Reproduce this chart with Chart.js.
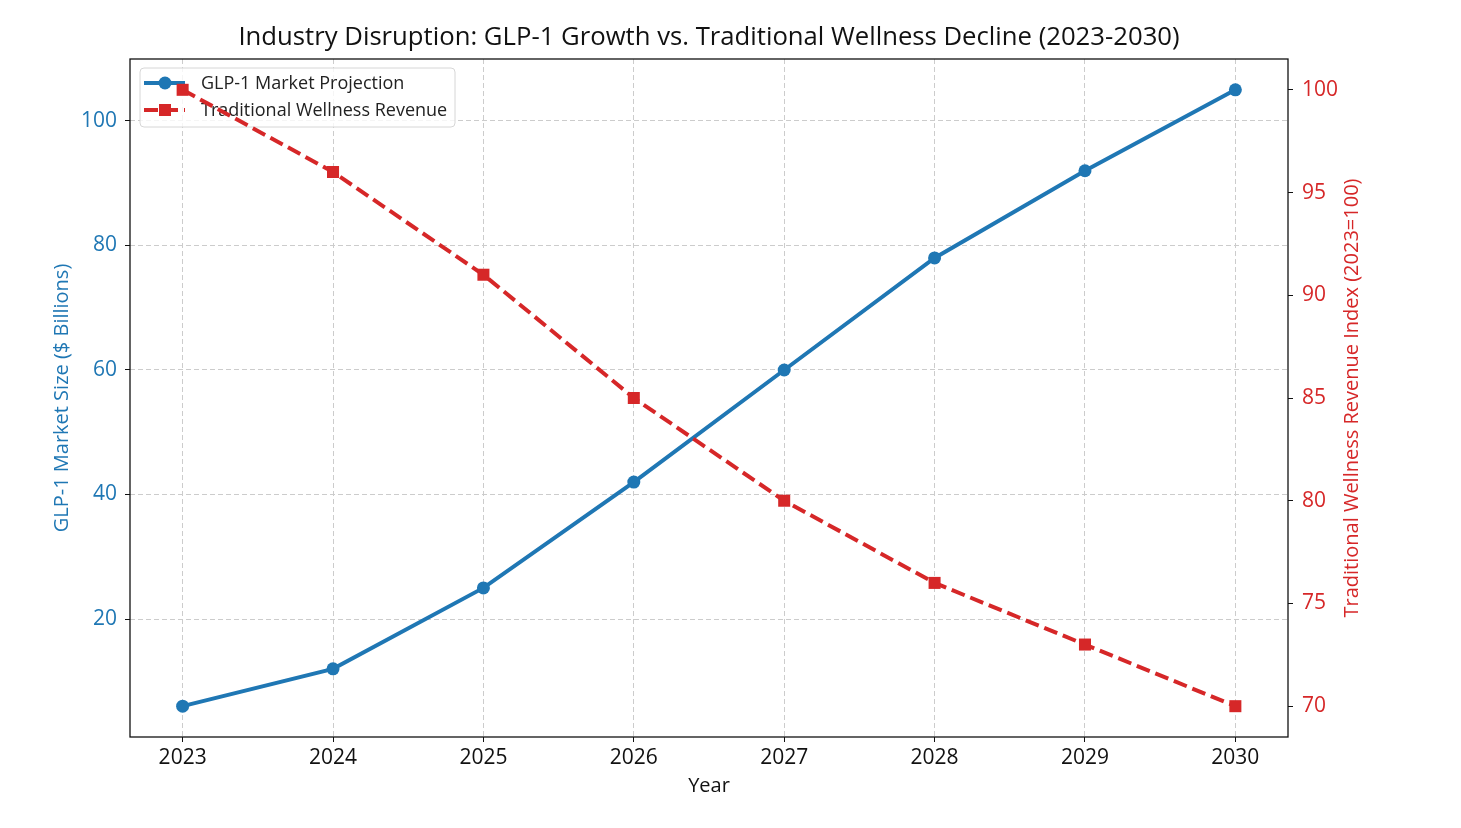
<!DOCTYPE html>
<html>
<head>
<meta charset="utf-8">
<title>GLP-1 Growth vs. Traditional Wellness Decline</title>
<script src="https://cdn.jsdelivr.net/npm/chart.js@4.4.1/dist/chart.umd.min.js"></script>
<style>
  html, body { margin: 0; padding: 0; background: #ffffff; }
  #wrap { width: 1461px; height: 828px; }
</style>
</head>
<body>
<div id="wrap"><canvas id="disruptionChart"></canvas></div>
<script>
const years = [2023, 2024, 2025, 2026, 2027, 2028, 2029, 2030];
const glpMarket = [6, 12, 25, 42, 60, 78, 92, 105];
const wellnessIndex = [100, 96, 91, 85, 80, 76, 73, 70];
const leftTicks = [20, 40, 60, 80, 100];
const rightTicks = [70, 75, 80, 85, 90, 95, 100];

const BLUE = "#1f77b4";
const RED = "#d62728";
const FONT = "'Open Sans', 'DejaVu Sans', sans-serif";
const chartTitle = "Industry Disruption: GLP-1 Growth vs. Traditional Wellness Decline (2023-2030)";
const rightTitle = "Traditional Wellness Revenue Index (2023=100)";

// matplotlib style 5% margins around the data
function padded(values, frac) {
    const lo = Math.min(...values), hi = Math.max(...values);
    const m = (hi - lo) * frac;
    return { min: lo - m, max: hi + m };
}
const xLim = padded(years, 0.05);
const leftLim = padded(glpMarket, 0.05);
const rightLim = padded(wellnessIndex, 0.05);

const legendItems = [
    { text: "GLP-1 Market Projection", color: BLUE, marker: "circle", dash: [] },
    { text: "Traditional Wellness Revenue", color: RED, marker: "rect", dash: [14, 6] }
];

// legend sits in the left axes, so the red series is drawn over it
const legendInside = {
    id: "legendInside",
    afterDatasetDraw(chart, args) {
        if (args.index !== 0) return;
        const ctx = chart.ctx;
        const a = chart.chartArea;
        const x = a.left + 10, y = a.top + 9, w = 315, h = 59;
        ctx.save();
        ctx.beginPath();
        ctx.roundRect(x, y, w, h, 4);
        ctx.fillStyle = "rgba(255,255,255,0.8)";
        ctx.fill();
        ctx.strokeStyle = "#d6d6d6";
        ctx.lineWidth = 1;
        ctx.stroke();
        ctx.font = "18px " + FONT;
        ctx.textBaseline = "middle";
        legendItems.forEach(function (item, i) {
            const cy = y + 15 + i * 27;
            ctx.strokeStyle = item.color;
            ctx.lineWidth = 4;
            ctx.setLineDash(item.dash);
            ctx.beginPath();
            ctx.moveTo(x + 4, cy);
            ctx.lineTo(x + 45, cy);
            ctx.stroke();
            ctx.setLineDash([]);
            ctx.fillStyle = item.color;
            if (item.marker === "circle") {
                ctx.beginPath();
                ctx.arc(x + 25, cy, 6.5, 0, Math.PI * 2);
                ctx.fill();
            } else {
                ctx.fillRect(x + 19, cy - 6, 12, 12);
            }
            ctx.fillStyle = "#222222";
            ctx.fillText(item.text, x + 61, cy + 1);
        });
        ctx.restore();
    }
};

// axes frame, title centred over the plot, and the right title read bottom to top
const frame = {
    id: "frame",
    afterDraw(chart) {
        const ctx = chart.ctx;
        const a = chart.chartArea;
        ctx.save();
        ctx.strokeStyle = "#111111";
        ctx.lineWidth = 1.3;
        ctx.strokeRect(a.left, a.top, a.right - a.left, a.bottom - a.top);

        ctx.font = "25.7px " + FONT;
        ctx.fillStyle = "#111111";
        ctx.textAlign = "center";
        ctx.textBaseline = "middle";
        ctx.fillText(chartTitle, (a.left + a.right) / 2, 38);

        ctx.translate(1352, (a.top + a.bottom) / 2);
        ctx.rotate(-Math.PI / 2);
        ctx.font = "20px " + FONT;
        ctx.fillStyle = RED;
        ctx.fillText(rightTitle, 0, 0);
        ctx.restore();
    }
};

const ctx = document.getElementById("disruptionChart").getContext("2d");

new Chart(ctx, {
    type: "line",
    data: {
        datasets: [
            {
                label: "GLP-1 Market Projection",
                data: years.map((yr, i) => ({ x: yr, y: glpMarket[i] })),
                yAxisID: "y",
                borderColor: BLUE,
                backgroundColor: BLUE,
                borderWidth: 4,
                pointRadius: 6.5,
                pointStyle: "circle",
                pointBorderWidth: 0,
                tension: 0,
                order: 1
            },
            {
                label: "Traditional Wellness Revenue",
                data: years.map((yr, i) => ({ x: yr, y: wellnessIndex[i] })),
                yAxisID: "y2",
                borderColor: RED,
                backgroundColor: RED,
                borderWidth: 4,
                borderDash: [14, 6],
                pointRadius: 8.5,
                pointStyle: "rect",
                pointBorderWidth: 0,
                tension: 0,
                order: 0
            }
        ]
    },
    options: {
        responsive: true,
        maintainAspectRatio: false,
        animation: false,
        events: [],
        layout: { padding: { top: 59, left: 0, right: 0, bottom: 0 } },
        plugins: {
            legend: { display: false },
            tooltip: { enabled: false },
            title: { display: false }
        },
        scales: {
            x: {
                type: "linear",
                position: "bottom",
                min: xLim.min,
                max: xLim.max,
                afterBuildTicks: function (scale) {
                    scale.ticks = years.map(v => ({ value: v }));
                },
                afterFit: function (scale) { scale.height = 91; },
                ticks: {
                    color: "#111111",
                    font: { family: FONT, size: 21 },
                    padding: 3,
                    maxRotation: 0,
                    callback: v => String(v)
                },
                grid: {
                    color: "#cccccc",
                    lineWidth: 1,
                    tickLength: 5,
                    tickColor: "#111111",
                    tickWidth: 1
                },
                border: { display: false, dash: [5, 3] },
                title: {
                    display: true,
                    text: "Year",
                    color: "#111111",
                    font: { family: FONT, size: 20 },
                    padding: { top: 0, bottom: 30 }
                }
            },
            y: {
                type: "linear",
                position: "left",
                min: leftLim.min,
                max: leftLim.max,
                afterBuildTicks: function (scale) {
                    scale.ticks = leftTicks.map(v => ({ value: v }));
                },
                afterFit: function (scale) { scale.width = 130; },
                ticks: {
                    color: BLUE,
                    font: { family: FONT, size: 21 },
                    padding: 8
                },
                grid: {
                    color: "#cccccc",
                    lineWidth: 1,
                    tickLength: 5,
                    tickColor: "#111111",
                    tickWidth: 1
                },
                border: { display: false, dash: [5, 3] },
                title: {
                    display: true,
                    text: "GLP-1 Market Size ($ Billions)",
                    color: BLUE,
                    font: { family: FONT, size: 20 },
                    padding: { top: 50, bottom: 0 }
                }
            },
            y2: {
                type: "linear",
                position: "right",
                min: rightLim.min,
                max: rightLim.max,
                afterBuildTicks: function (scale) {
                    scale.ticks = rightTicks.map(v => ({ value: v }));
                },
                afterFit: function (scale) { scale.width = 173; },
                ticks: {
                    color: RED,
                    font: { family: FONT, size: 21 },
                    padding: 9
                },
                grid: {
                    drawOnChartArea: false,
                    tickLength: 5,
                    tickColor: "#111111",
                    tickWidth: 1
                },
                border: { display: false },
                title: { display: false }
            }
        }
    },
    plugins: [legendInside, frame]
});
</script>
</body>
</html>
